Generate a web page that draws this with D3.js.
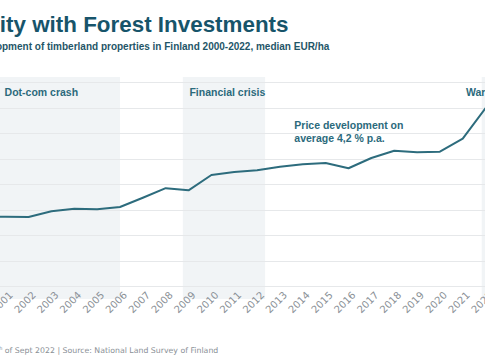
<!DOCTYPE html>
<html>
<head>
<meta charset="utf-8">
<script src="https://cdn.jsdelivr.net/npm/d3@7"></script>
<style>
  body { margin: 0; background: #fff; }
  svg { display: block; }
</style>
</head>
<body>
<div id="chart"></div>
<script>
// chart size (the original is wider, this is the visible crop)
const width = 485;
const height = 360;

// data: median price of timberland, EUR/ha
const years = [2000, 2001, 2002, 2003, 2004, 2005, 2006, 2007, 2008, 2009, 2010, 2011,
               2012, 2013, 2014, 2015, 2016, 2017, 2018, 2019, 2020, 2021, 2022];
const prices = [1360, 1365, 1359, 1471, 1522, 1510, 1555, 1737, 1924, 1882, 2182, 2241,
                2275, 2345, 2392, 2418, 2314, 2516, 2659, 2627, 2639, 2894, 3496];
const yTicks = [0, 500, 1000, 1500, 2000, 2500, 3000, 3500, 4000];

// shaded periods
const bandNames = ["Dot-com crash", "Financial crisis", "War in Ukraine"];
const bandStart = [2000.66, 2008.75, 2021.83];
const bandEnd = [2006, 2012.35, 2023];

const svg = d3.select("#chart")
  .append("svg")
  .attr("width", width)
  .attr("height", height)
  .attr("viewBox", [0, 0, width, height]);

// scales
const xScale = d3.scaleLinear()
  .domain([2000, 2022])
  .range([-17.1, 485.6]);

const yScale = d3.scaleLinear()
  .domain([0, 4000])
  .range([286.3, 82.3]);

const plotTop = 77;
const plotBottom = 299;

// bands
svg.selectAll(".band")
  .data(bandNames)
  .enter()
  .append("rect")
    .attr("class", "band")
    .attr("x", (d, i) => xScale(bandStart[i]))
    .attr("y", plotTop)
    .attr("width", (d, i) => xScale(bandEnd[i]) - xScale(bandStart[i]))
    .attr("height", plotBottom - plotTop)
    .attr("fill", "#f1f4f6");

// gridlines
svg.append("g")
  .selectAll("line")
  .data(yTicks)
  .enter()
  .append("line")
    .attr("x1", 0)
    .attr("x2", width)
    .attr("y1", d => Math.round(yScale(d)) + 0.5)
    .attr("y2", d => Math.round(yScale(d)) + 0.5)
    .attr("stroke", "#e6e8ea")
    .attr("stroke-width", 1);

// band labels
svg.selectAll(".band-label")
  .data(bandNames)
  .enter()
  .append("text")
    .attr("class", "band-label")
    .attr("x", (d, i) => i == 2 ? 466 : xScale(bandStart[i]) + 6.6)
    .attr("y", 96)
    .attr("font-family", "Liberation Sans, Arial, sans-serif")
    .attr("font-weight", "bold")
    .attr("font-size", "10.5px")
    .attr("fill", "#2b6a7c")
    .text(d => d);

// x axis
const xAxis = svg.append("g")
  .attr("transform", `translate(0, 290)`)
  .call(d3.axisBottom(xScale)
    .tickValues(years)
    .tickFormat(d3.format("d"))
    .tickSize(0));

xAxis.select(".domain").remove();
xAxis.selectAll("text")
  .attr("font-family", "DejaVu Sans, sans-serif")
  .attr("font-size", "10px")
  .attr("fill", "#8a9096")
  .attr("text-anchor", "end")
  .attr("x", 1)
  .attr("y", 9.3)
  .attr("dy", 0)
  .attr("transform", "rotate(-45)");

// price line
const line = d3.line()
  .x((d, i) => xScale(years[i]))
  .y(d => yScale(d));

svg.append("path")
  .datum(prices)
  .attr("fill", "none")
  .attr("stroke", "#2d6c7d")
  .attr("stroke-width", 2)
  .attr("stroke-linejoin", "round")
  .attr("d", line);

// annotation
const note = svg.append("text")
  .attr("x", 294.3)
  .attr("y", 129)
  .attr("font-family", "Liberation Sans, Arial, sans-serif")
  .attr("font-weight", "bold")
  .attr("font-size", "10.5px")
  .attr("fill", "#2b6a7c");
note.append("tspan").attr("x", 294.3).text("Price development on");
note.append("tspan").attr("x", 294.3).attr("dy", 12.5).text("average 4,2 % p.a.");

// title and subtitle (start of the text is outside the crop)
svg.append("text")
  .attr("x", 288.5)
  .attr("y", 31.5)
  .attr("text-anchor", "end")
  .attr("font-family", "Liberation Sans, Arial, sans-serif")
  .attr("font-weight", "bold")
  .attr("font-size", "22.4px")
  .attr("fill", "#17546a")
  .text("Stability with Forest Investments");

svg.append("text")
  .attr("x", 329.3)
  .attr("y", 49.5)
  .attr("text-anchor", "end")
  .attr("font-family", "Liberation Sans, Arial, sans-serif")
  .attr("font-weight", "bold")
  .attr("font-size", "10px")
  .attr("fill", "#1f5668")
  .text("Price development of timberland properties in Finland 2000-2022, median EUR/ha");

// footer
const footer = svg.append("text")
  .attr("x", 218.3)
  .attr("y", 352.5)
  .attr("text-anchor", "end")
  .attr("font-family", "DejaVu Sans, sans-serif")
  .attr("font-size", "7.8px")
  .attr("fill", "#8a9096");
footer.append("tspan").text("Updated 5");
footer.append("tspan").attr("font-size", "5px").attr("dy", -3).text("th");
footer.append("tspan").attr("dy", 3).text(" of Sept 2022 | Source: National Land Survey of Finland");
</script>
</body>
</html>
